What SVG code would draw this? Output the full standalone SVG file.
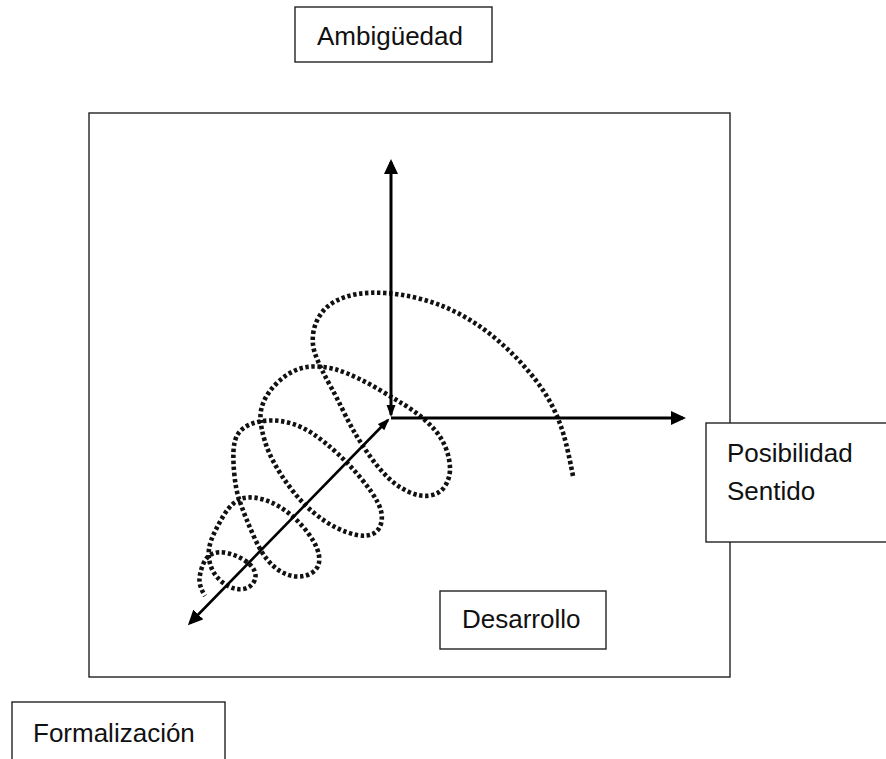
<svg xmlns="http://www.w3.org/2000/svg" width="886" height="759" viewBox="0 0 886 759">
<style>
.box{fill:#fff;stroke:#222;stroke-width:1.4}
.frame{fill:none;stroke:#222;stroke-width:1.4}
.lbl{font-family:"Liberation Sans",Arial,sans-serif;font-size:26px;fill:#111}
.axis{stroke:#000;fill:none}
.spiral{fill:none;stroke:#111;stroke-width:4.6;stroke-dasharray:3.4 2.6}
</style>
<defs>
<marker id="ah" markerUnits="userSpaceOnUse" markerWidth="16" markerHeight="16" refX="12" refY="7" orient="auto-start-reverse"><path d="M0,0 L15,7 L0,14 z" fill="#000"/></marker>
<marker id="ahs" markerUnits="userSpaceOnUse" markerWidth="14" markerHeight="12" refX="10" refY="4.5" orient="auto-start-reverse"><path d="M0,0 L12,4.5 L0,9 z" fill="#000"/></marker>
</defs>
<rect width="886" height="759" fill="#fff"/>
<g id="frame"><rect class="frame" x="89" y="113" width="641" height="564"/></g>
<g id="spiral">
<path class="spiral" d="M573,476 Q568,450 564,436 Q560,422 553.5,408.5 Q547,395 537.5,382.5 Q528,370 517.5,359 Q507,348 495,338 Q483,328 470,320 Q457,312 443.5,306.5 Q430,301 415,297.5 Q400,294 385,293 Q370,292 357.5,294 Q345,296 335,301.5 Q325,307 319.5,316 Q314,325 313,335 Q312,345 315,353.5 Q318,362 322,370 Q326,378 331.5,388 Q337,398 343.5,411.5 Q350,425 357,436.5 Q364,448 372,459 Q380,470 389,478.5 Q398,487 409,492 Q420,497 430,495.5 Q440,494 445,486 Q450,478 450,469 Q450,460 446.5,450 Q443,440 436.5,432 Q430,424 421.5,417 Q413,410 403,404 Q393,398 381.5,391 Q370,384 358.5,378.5 Q347,373 337.5,370 Q328,367 316.5,366.5 Q305,366 295,370.5 Q285,375 276.5,383.5 Q268,392 264,401 Q260,410 260.5,419 Q261,428 264.5,440 Q268,452 275,464.5 Q282,477 292,490 Q302,503 313.5,512.5 Q325,522 336,527.5 Q347,533 357,535 Q367,537 373.5,533.5 Q380,530 381.5,521.5 Q383,513 378,503 Q373,493 361.5,479 Q350,465 337.5,453.5 Q325,442 314,434.5 Q303,427 291.5,423.5 Q280,420 269,420.5 Q258,421 250,424.5 Q242,428 238,434 Q234,440 233.5,451 Q233,462 234.5,476 Q236,490 239,499 Q242,508 246,518 Q250,528 255,539 Q260,550 266,558 Q272,566 280,571 Q288,576 296.5,576.5 Q305,577 311.5,573 Q318,569 319,562.5 Q320,556 317,548.5 Q314,541 308,533 Q302,525 295,518.5 Q288,512 280,507 Q272,502 263.5,499.5 Q255,497 247.5,497.5 Q240,498 234,503 Q228,508 223,516.5 Q218,525 214,533.5 Q210,542 209,549 Q208,556 210,563.5 Q212,571 217,577 Q222,583 229,586.5 Q236,590 243,589 Q250,588 253.5,582.5 Q257,577 254.5,571 Q252,565 244,560 Q236,555 227,553 Q218,551 212,554 Q206,557 203,564.5 Q200,572 199.5,579 Q199,586 205,596"/>
</g>
<g id="connectors">
<line class="axis" x1="391" y1="415" x2="391" y2="162" stroke-width="3" marker-start="url(#ahs)" marker-end="url(#ah)"/>
<line class="axis" x1="391" y1="418" x2="683" y2="418" stroke-width="3" marker-end="url(#ah)"/>
<line class="axis" x1="190" y1="623" x2="388" y2="420" stroke-width="2.6" marker-start="url(#ah)" marker-end="url(#ahs)"/>
</g>
<g id="ambiguedad"><rect class="box" x="295" y="7" width="197" height="55"/><text class="lbl" x="317" y="45">Ambigüedad</text></g>
<g id="posibilidad"><rect class="box" x="706" y="423" width="200" height="119"/><text class="lbl" x="727" y="462">Posibilidad</text><text class="lbl" x="727" y="500">Sentido</text></g>
<g id="desarrollo"><rect class="box" x="440" y="591" width="166" height="58"/><text class="lbl" x="462" y="628">Desarrollo</text></g>
<g id="formalizacion"><rect class="box" x="12" y="702" width="213" height="80"/><text class="lbl" x="33" y="742">Formalización</text></g>
</svg>
